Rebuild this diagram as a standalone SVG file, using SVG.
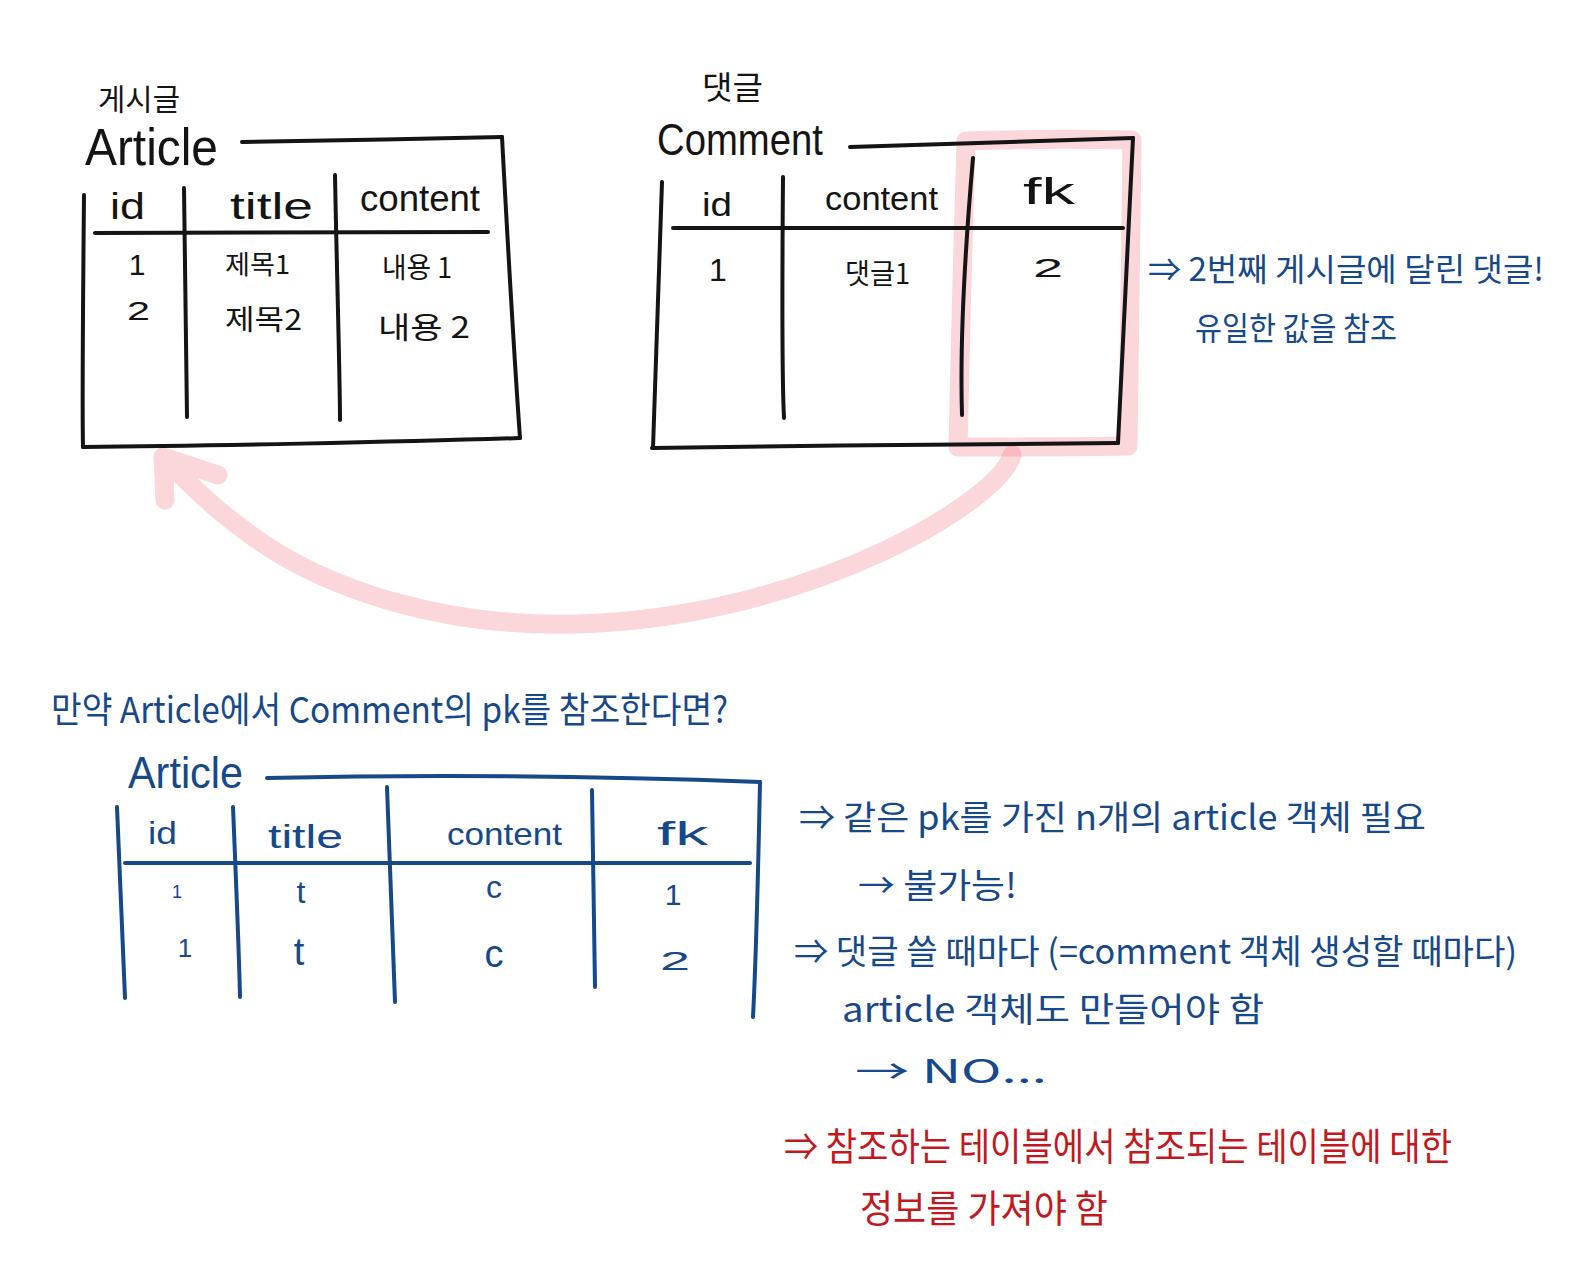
<svg xmlns="http://www.w3.org/2000/svg" width="1586" height="1280" viewBox="0 0 1586 1280">
<style>
.ln{fill:none;stroke-width:4;stroke-linecap:round;stroke-linejoin:round}
.blk{stroke:#141414}
.blu{stroke:#16488a}
.pk{fill:none;stroke:#f47f8c;stroke-width:19;stroke-linecap:round;stroke-linejoin:round}
text{font-family:"Noto Sans CJK KR","Noto Sans",sans-serif}
.lat{font-family:"Liberation Sans","Noto Sans",sans-serif}
.tb{fill:#141414}
.tu{fill:#16488a}
.tr{fill:#c2181e}
</style>
<rect width="1586" height="1280" fill="#ffffff"/>

<!-- pink highlight + arrow (under black lines) -->
<g id="fk-highlight" opacity="0.32">
  <path class="pk" d="M966,141 C1020,139 1080,139 1132,140 C1131,240 1129,350 1128,446 C1070,447 1010,447 958,447 C960,350 963,240 966,141 Z"/>
</g>
<g id="connectors" opacity="0.32">
  <path class="pk" d="M1012,455 C1000,500 820,610 600,623 C450,632 320,590 240,527 C210,505 185,480 163,457 M163,457 L165,500 M163,457 L218,475"/>
</g>

<!-- Article table (top) -->
<g id="article-table">
  <text class="tb" x="98" y="110" font-size="30" textLength="82" lengthAdjust="spacingAndGlyphs">게시글</text>
  <text class="tb lat" x="85" y="165" font-size="52" textLength="133" lengthAdjust="spacingAndGlyphs">Article</text>
  <path class="ln blk" d="M242,142 C320,141 420,139 502,137"/>
  <path class="ln blk" d="M502,137 C507,230 513,340 520,438"/>
  <path class="ln blk" d="M83,447 C200,446 400,442 520,438"/>
  <path class="ln blk" d="M84,195 C83,300 82,400 83,447"/>
  <path class="ln blk" d="M95,233 L488,232"/>
  <path class="ln blk" d="M184,188 C185,300 186,380 187,417"/>
  <path class="ln blk" d="M335,175 C337,280 340,380 340,420"/>
  <text class="tb lat" x="110" y="219" font-size="36" textLength="35" lengthAdjust="spacingAndGlyphs">id</text>
  <text class="tb lat" x="230" y="219" font-size="36" textLength="83" lengthAdjust="spacingAndGlyphs">title</text>
  <text class="tb lat" x="360" y="211" font-size="36" textLength="120" lengthAdjust="spacingAndGlyphs">content</text>
  <text class="tb lat" x="137" y="275" font-size="30" text-anchor="middle">1</text>
  <text class="tb" x="225" y="274" font-size="26" textLength="65" lengthAdjust="spacingAndGlyphs">제목1</text>
  <text class="tb" x="382" y="278" font-size="28" textLength="70" lengthAdjust="spacingAndGlyphs">내용 1</text>
  <text class="tb lat" x="127" y="320" font-size="26" textLength="23" lengthAdjust="spacingAndGlyphs">2</text>
  <text class="tb" x="225" y="330" font-size="28" textLength="77" lengthAdjust="spacingAndGlyphs">제목2</text>
  <text class="tb" x="378" y="338" font-size="30" textLength="92" lengthAdjust="spacingAndGlyphs">내용 2</text>
</g>

<!-- Comment table (top) -->
<g id="comment-table">
  <text class="tb" x="702" y="99" font-size="32" textLength="61" lengthAdjust="spacingAndGlyphs">댓글</text>
  <text class="tb lat" x="657" y="155" font-size="44" textLength="166" lengthAdjust="spacingAndGlyphs">Comment</text>
  <path class="ln blk" d="M850,147 C950,143 1050,140 1133,138"/>
  <path class="ln blk" d="M1133,138 C1128,250 1122,350 1118,443"/>
  <path class="ln blk" d="M652,448 C800,446 1000,443 1118,443"/>
  <path class="ln blk" d="M662,182 C658,300 654,400 653,448"/>
  <path class="ln blk" d="M673,228 L1123,228"/>
  <path class="ln blk" d="M783,177 C782,300 782,380 784,418"/>
  <path class="ln blk" d="M973,158 C965,250 960,350 962,415"/>
  <text class="tb lat" x="702" y="216" font-size="34" textLength="30" lengthAdjust="spacingAndGlyphs">id</text>
  <text class="tb lat" x="825" y="210" font-size="34" textLength="113" lengthAdjust="spacingAndGlyphs">content</text>
  <text class="tb lat" x="1023" y="204" font-size="36" textLength="52" lengthAdjust="spacingAndGlyphs">fk</text>
  <text class="tb lat" x="718" y="281" font-size="32" text-anchor="middle">1</text>
  <text class="tb" x="845" y="284" font-size="28" textLength="65" lengthAdjust="spacingAndGlyphs">댓글1</text>
  <text class="tb lat" x="1033" y="277" font-size="26" textLength="30" lengthAdjust="spacingAndGlyphs">2</text>
</g>

<!-- right note (top) -->
<g id="note-top">
  <text class="tu" x="1148" y="281" font-size="32" textLength="396" lengthAdjust="spacingAndGlyphs">⇒ 2번째 게시글에 달린 댓글!</text>
  <text class="tu" x="1195" y="340" font-size="32" textLength="202" lengthAdjust="spacingAndGlyphs">유일한 값을 참조</text>
</g>

<!-- question -->
<g id="question">
  <text class="tu" x="51" y="723" font-size="36" textLength="677" lengthAdjust="spacingAndGlyphs">만약 Article에서 Comment의 pk를 참조한다면?</text>
</g>

<!-- Article table (bottom, blue) -->
<g id="article-table-2">
  <text class="tu lat" x="128" y="788" font-size="44" textLength="115" lengthAdjust="spacingAndGlyphs">Article</text>
  <path class="ln blu" d="M267,778 C450,774 600,776 760,782"/>
  <path class="ln blu" d="M760,782 C758,880 756,960 753,1017"/>
  <path class="ln blu" d="M117,807 C120,880 123,950 125,998"/>
  <path class="ln blu" d="M125,863 L750,863"/>
  <path class="ln blu" d="M233,807 C236,880 239,950 240,997"/>
  <path class="ln blu" d="M387,787 C390,880 393,960 395,1002"/>
  <path class="ln blu" d="M592,790 C593,880 594,950 595,987"/>
  <text class="tu lat" x="148" y="844" font-size="32" textLength="29" lengthAdjust="spacingAndGlyphs">id</text>
  <text class="tu lat" x="268" y="848" font-size="34" textLength="75" lengthAdjust="spacingAndGlyphs">title</text>
  <text class="tu lat" x="447" y="845" font-size="32" textLength="115" lengthAdjust="spacingAndGlyphs">content</text>
  <text class="tu lat" x="657" y="845" font-size="34" textLength="51" lengthAdjust="spacingAndGlyphs">fk</text>
  <text class="tu lat" x="177" y="898" font-size="18" text-anchor="middle">1</text>
  <text class="tu lat" x="301" y="903" font-size="32" text-anchor="middle">t</text>
  <text class="tu lat" x="494" y="898" font-size="32" text-anchor="middle">c</text>
  <text class="tu lat" x="673" y="905" font-size="30" text-anchor="middle">1</text>
  <text class="tu lat" x="185" y="957" font-size="26" text-anchor="middle">1</text>
  <text class="tu lat" x="299" y="965" font-size="38" text-anchor="middle">t</text>
  <text class="tu lat" x="494" y="967" font-size="38" text-anchor="middle">c</text>
  <text class="tu lat" x="660" y="970" font-size="26" textLength="30" lengthAdjust="spacingAndGlyphs">2</text>
</g>

<!-- right notes (bottom) -->
<g id="note-bottom">
  <text class="tu" x="799" y="830" font-size="34" textLength="627" lengthAdjust="spacingAndGlyphs">⇒ 같은 pk를 가진 n개의 article 객체 필요</text>
  <text class="tu" x="858" y="898" font-size="34" textLength="159" lengthAdjust="spacingAndGlyphs">→ 불가능!</text>
  <text class="tu" x="794" y="964" font-size="34" textLength="723" lengthAdjust="spacingAndGlyphs">⇒ 댓글 쓸 때마다 (=comment 객체 생성할 때마다)</text>
  <text class="tu" x="842" y="1022" font-size="34" textLength="422" lengthAdjust="spacingAndGlyphs">article 객체도 만들어야 함</text>
  <text class="tu" x="855" y="1083" font-size="32" textLength="192" lengthAdjust="spacingAndGlyphs">→ NO...</text>
</g>

<g id="conclusion">
  <text class="tr" x="784" y="1160" font-size="38" textLength="668" lengthAdjust="spacingAndGlyphs">⇒ 참조하는 테이블에서 참조되는 테이블에 대한</text>
  <text class="tr" x="860" y="1222" font-size="38" textLength="248" lengthAdjust="spacingAndGlyphs">정보를 가져야 함</text>
</g>
</svg>
